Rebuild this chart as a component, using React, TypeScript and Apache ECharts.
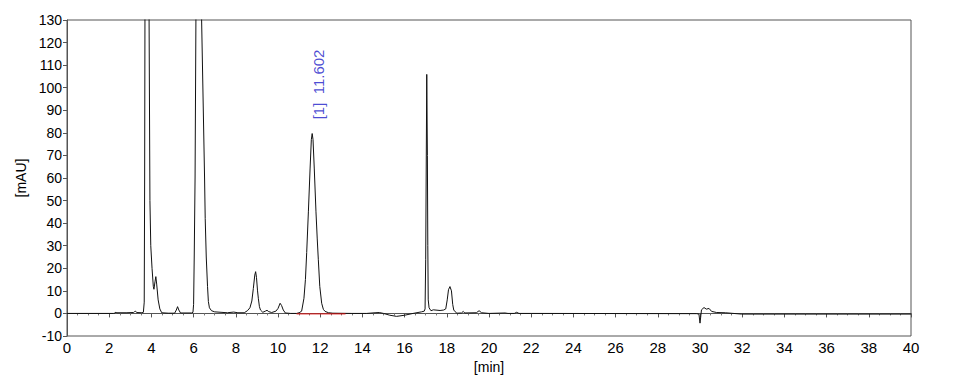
import React, { useEffect, useRef } from "react";
import * as echarts from "echarts";

// Chromatogram trace: [time (min), signal (mAU)]
const baselineStart: [number, number][] = [
  [0, 0], [1.0, 0], [2.2, 0], [2.28, 0.2], [2.32, 0.6], [2.36, 0.3], [2.8, 0.3],
  [3.15, 0.4], [3.2, 0.8], [3.25, 1.0], [3.3, 0.4], [3.55, 0.3], [3.62, 0.5],
];
const peakA: [number, number][] = [
  [3.66, 5], [3.68, 60], [3.72, 250], [3.78, 400], [3.86, 250], [3.89, 130],
  [3.93, 50], [3.97, 30], [4.03, 20], [4.09, 12], [4.12, 10.7], [4.17, 14],
  [4.21, 16.3], [4.25, 13], [4.32, 6], [4.4, 2], [4.49, 0.3],
];
const smallPeak: [number, number][] = [
  [4.8, 0.1], [5.1, 0.1], [5.18, 1.5], [5.24, 3], [5.3, 1.5], [5.38, 0.2], [5.9, 0.2],
];
const peakB: [number, number][] = [
  [5.97, 0.5], [6.0, 4], [6.03, 25], [6.07, 60], [6.11, 130], [6.2, 260],
  [6.3, 300], [6.35, 250], [6.38, 130], [6.52, 60], [6.55, 42], [6.6, 25],
  [6.66, 12], [6.7, 5.3], [6.75, 2.5], [6.85, 1.2], [7.0, 0.7], [7.3, 0.5],
  [7.6, 0.3], [7.9, 0.6], [8.1, 0.3],
];
const peakC: [number, number][] = [
  [8.4, 0.3], [8.55, 1.2], [8.67, 2.5], [8.76, 5.5], [8.83, 11], [8.9, 17],
  [8.94, 18.5], [8.98, 16], [9.03, 10], [9.07, 6.5], [9.12, 3], [9.17, 1.5],
  [9.28, 0.5], [9.4, 1], [9.48, 1.4], [9.56, 0.8], [9.7, 0.4], [9.9, 1],
  [10.0, 2.2], [10.1, 4.5], [10.17, 3.5], [10.25, 1.5], [10.35, 0.2], [10.6, 0],
];
const peakMain: [number, number][] = [
  [10.88, 0], [11.0, 0.3], [11.12, 1], [11.23, 6.7], [11.3, 15], [11.36, 27],
  [11.44, 45], [11.52, 64], [11.58, 77], [11.62, 79.7], [11.66, 77], [11.72, 64],
  [11.8, 45], [11.86, 33], [11.91, 24], [11.98, 12], [12.07, 4.5], [12.15, 1.8],
  [12.23, 0.9], [12.4, 0.3], [12.6, 0.1],
];
const midSection: [number, number][] = [
  [13.5, 0], [14.2, 0], [14.6, 0.3], [14.8, 0.4], [15.0, 0], [15.3, -0.8],
  [15.62, -1.3], [16.0, -0.8], [16.4, 0], [16.8, 0.7], [16.93, 1],
];
const spike: [number, number][] = [
  [16.97, 2], [17.0, 24], [17.05, 105.9], [17.08, 70], [17.1, 30], [17.12, 6],
  [17.16, 2.5], [17.25, 1.2], [17.36, 1.6], [17.68, 1.3], [17.85, 1.5],
];
const peakD: [number, number][] = [
  [17.95, 2], [18.02, 6], [18.08, 10.5], [18.15, 11.9], [18.22, 10], [18.28, 4],
  [18.33, 1.5], [18.47, 0.1], [18.7, 0.2], [18.78, 0.9], [18.85, 0.2], [19.4, 0.3],
  [19.53, 1.2], [19.65, 0.3], [20.0, 0], [20.76, 0.2], [20.9, 0], [21.2, 0],
  [21.31, 0.5], [21.42, 0], [22.0, 0],
];
const tailSection: [number, number][] = [
  [29.84, -0.1], [29.95, -0.3], [30.0, -4.3], [30.04, -1], [30.07, 1.6],
  [30.19, 2.6], [30.3, 1.9], [30.43, 2.2], [30.55, 0.9], [30.79, 0.4],
  [31.2, 0.3], [31.97, -0.3], [40, -0.3],
];
// integration baseline of peak [1]
const integrationBaseline: [number, number][] = [[10.88, -0.2], [13.2, -0.2]];
// peak annotation anchor
const peakLabels = [{ text: "[1]  11.602", time: 11.91, signal: 86 }];

const xMin = 0, xMax = 40, xStep = 2;
const yMin = -10, yMax = 130, yStep = 10;

const FONT = "'Liberation Sans', Arial, sans-serif";

export default function App() {
  const ref = useRef<HTMLDivElement>(null);
  useEffect(() => {
    const chart = echarts.init(ref.current!, null, { renderer: "svg" });
    const trace = [
      ...baselineStart, ...peakA, ...smallPeak, ...peakB, ...peakC, ...peakMain,
      ...midSection, ...spike, ...peakD, ...tailSection,
    ];
    chart.setOption({
      animation: false,
      grid: {
        left: 67, right: 48, top: 20, bottom: 41,
        show: true, borderColor: "#555", borderWidth: 1, backgroundColor: "#fff",
      },
      xAxis: {
        type: "value", min: xMin, max: xMax, interval: xStep,
        name: "[min]", nameLocation: "middle", nameGap: 24,
        nameTextStyle: { color: "#000", fontSize: 14, fontFamily: FONT },
        axisLine: { show: true, lineStyle: { color: "#555", width: 1 } },
        axisTick: { show: true, length: 4, lineStyle: { color: "#555" } },
        minorTick: { show: true, splitNumber: 4, length: 2, lineStyle: { color: "#777" } },
        axisLabel: { color: "#000", fontSize: 15, fontFamily: FONT, margin: 4 },
        splitLine: { show: false },
      },
      yAxis: {
        type: "value", min: yMin, max: yMax, interval: yStep,
        name: "[mAU]", nameLocation: "middle", nameGap: 32,
        nameTextStyle: { color: "#000", fontSize: 14, fontFamily: FONT },
        axisLine: { show: true, lineStyle: { color: "#555", width: 1 } },
        axisTick: { show: true, length: 4, lineStyle: { color: "#555" } },
        axisLabel: { color: "#000", fontSize: 14, fontFamily: FONT, margin: 5 },
        splitLine: { show: false },
      },
      series: [
        {
          type: "line", data: trace, showSymbol: false, symbol: "none",
          lineStyle: { color: "#111", width: 1 }, clip: true, silent: true,
        },
        {
          type: "line", data: integrationBaseline, showSymbol: false, symbol: "none",
          lineStyle: { color: "#e01010", width: 1 }, clip: true, silent: true,
        },
        {
          type: "scatter", silent: true, symbolSize: 1,
          itemStyle: { color: "transparent" },
          data: peakLabels.map((p) => ({ value: [p.time, p.signal], name: p.text })),
          label: {
            show: true, position: "inside", rotate: 90, align: "left",
            verticalAlign: "middle", color: "#1c1cc8", fontSize: 15, fontFamily: FONT,
            formatter: (p: any) => p.name,
          },
        },
      ],
    });
    return () => chart.dispose();
  }, []);
  return (
    <div
      ref={ref}
      style={{ position: "fixed", left: 0, top: 0, width: 959, height: 379, background: "#fff" }}
    />
  );
}
